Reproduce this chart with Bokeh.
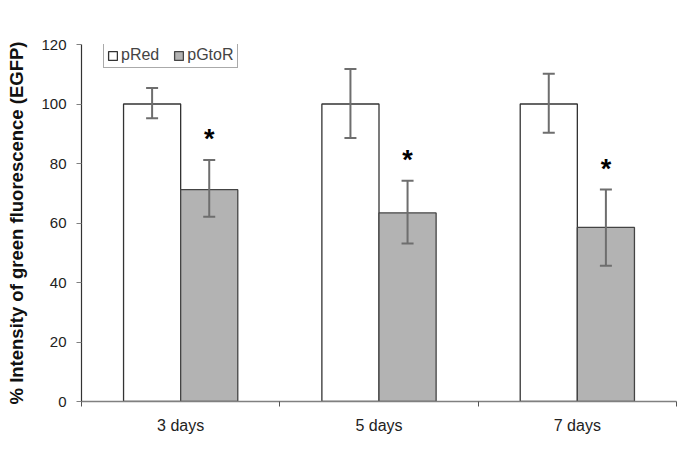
from bokeh.plotting import figure
from bokeh.models import ColumnDataSource, FixedTicker, Whisker, TeeHead, Legend, LegendItem, Range1d
from bokeh.core.properties import value
from bokeh.embed import file_html
from bokeh.resources import INLINE

categories = ["3 days", "5 days", "7 days"]
pred_values = [100, 100, 100]
pred_lower = [95.2, 88.6, 90.3]
pred_upper = [105.4, 111.8, 110.2]
pgtor_values = [71.2, 63.4, 58.5]
pgtor_lower = [62.1, 53.1, 45.6]
pgtor_upper = [81.2, 74.2, 71.3]
y_ticks = [0, 20, 40, 60, 80, 100, 120]

BAR_W = 0.288
centers = [i + 0.5 for i in range(len(categories))]
x_red = [c - BAR_W / 2 for c in centers]
x_grn = [c + BAR_W / 2 for c in centers]

p = figure(width=677, height=450, output_backend="svg", toolbar_location=None,
           x_range=Range1d(0, len(categories)), y_range=Range1d(0, 120),
           min_border_left=81, min_border_right=1, min_border_top=44, min_border_bottom=49)
p.outline_line_color = None
p.grid.visible = False

src_r = ColumnDataSource(dict(x=x_red, top=pred_values, lo=pred_lower, hi=pred_upper))
src_g = ColumnDataSource(dict(x=x_grn, top=pgtor_values, lo=pgtor_lower, hi=pgtor_upper,
                              star_y=[u + 7 for u in pgtor_upper], star=["*"] * len(categories)))

r_red = p.vbar(x="x", top="top", width=BAR_W, source=src_r, fill_color="white",
               line_color="#333333", line_width=1.3)
r_grn = p.vbar(x="x", top="top", width=BAR_W, source=src_g, fill_color="#b3b3b3",
               line_color="#444444", line_width=1.3)

for src in (src_r, src_g):
    w = Whisker(source=src, base="x", upper="hi", lower="lo", level="overlay",
                line_color="#6e6e6e", line_width=2,
                upper_head=TeeHead(size=12, line_color="#6e6e6e", line_width=2),
                lower_head=TeeHead(size=12, line_color="#6e6e6e", line_width=2))
    p.add_layout(w)

p.text(x="x", y="star_y", text="star", source=src_g, text_align="center",
       text_baseline="middle", text_font=value("Liberation Sans"),
       text_font_style="bold", text_font_size="27px", text_color="black")

# axes
p.xaxis.ticker = FixedTicker(ticks=centers, minor_ticks=list(range(len(categories) + 1)))
p.xaxis.major_label_overrides = {c: n for c, n in zip(centers, categories)}
p.xaxis.major_tick_line_color = None
p.xaxis.major_tick_in = 0
p.xaxis.major_tick_out = 0
p.xaxis.minor_tick_line_color = "#555555"
p.xaxis.minor_tick_in = 0
p.xaxis.minor_tick_out = 5
p.xaxis.axis_line_color = "#808080"
p.xaxis.axis_line_width = 1.5
p.xaxis.major_label_standoff = 10
p.xaxis.major_label_text_font = "Liberation Sans"
p.xaxis.major_label_text_font_size = "16px"
p.xaxis.major_label_text_color = "#222222"

p.yaxis.ticker = FixedTicker(ticks=y_ticks, minor_ticks=[])
p.yaxis.major_tick_in = 0
p.yaxis.major_tick_out = 5
p.yaxis.major_tick_line_color = "#808080"
p.yaxis.axis_line_color = "#333333"
p.yaxis.axis_line_width = 1.2
p.yaxis.major_label_standoff = 10
p.yaxis.major_label_text_font = "Liberation Sans"
p.yaxis.major_label_text_font_size = "15px"
p.yaxis.major_label_text_color = "#222222"
p.yaxis.axis_label = "% Intensity of green fluorescence (EGFP)"
p.yaxis.axis_label_text_font = "Liberation Sans"
p.yaxis.axis_label_text_font_style = "bold"
p.yaxis.axis_label_text_font_size = "18.5px"
p.yaxis.axis_label_text_color = "#111111"
p.yaxis.axis_label_standoff = 11

legend = Legend(items=[LegendItem(label="pRed", renderers=[r_red]),
                       LegendItem(label="pGtoR", renderers=[r_grn])],
                orientation="horizontal", location=(22, 333),
                label_text_font="Liberation Sans", label_text_font_size="16px",
                glyph_width=11, glyph_height=11, label_standoff=3, spacing=14,
                padding=3, margin=0, label_height=16,
                border_line_color="#555555", border_line_width=1,
                background_fill_alpha=1)
p.add_layout(legend)

open("out.html", "w").write(file_html(p, INLINE))
